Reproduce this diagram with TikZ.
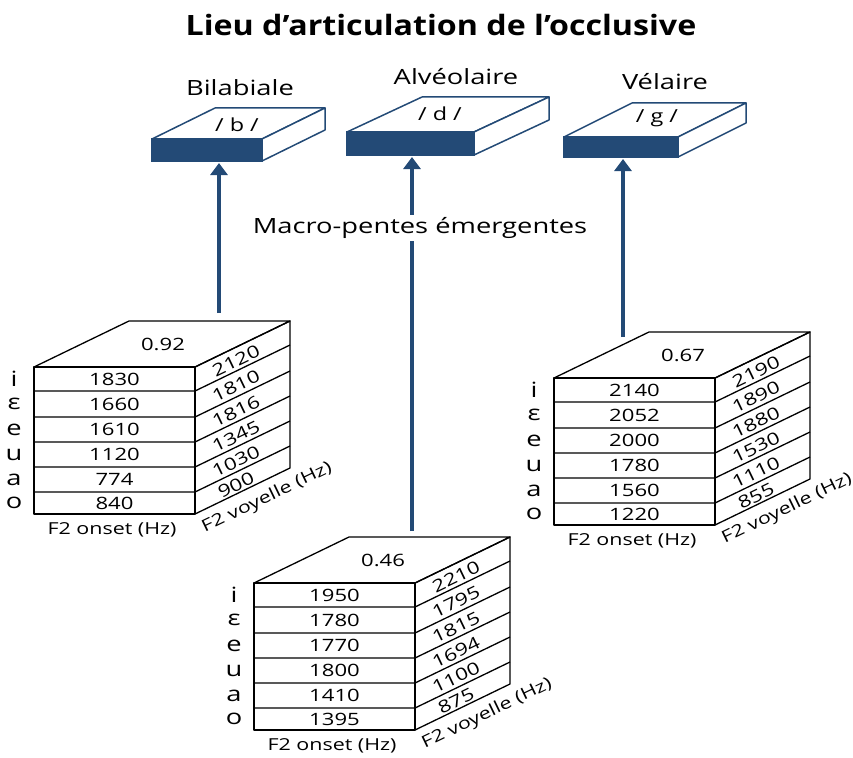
\documentclass[tikz,border=0pt]{standalone}
\usepackage{fontspec}
\setmainfont{Open Sans}[FakeStretch=1.3]
\newfontfamily\titlefont{Open Sans}[FakeStretch=1.15]
\usetikzlibrary{arrows.meta}
\definecolor{navy}{HTML}{234A76}
\tikzset{
  slabface/.style={draw=navy, line width=1.5pt, fill=white, line join=round},
  slabfront/.style={draw=navy, fill=navy, line width=1.5pt, inner sep=0pt, outer sep=0pt},
  stackline/.style={draw=black, line width=1.3pt, line join=round},
  upar/.style={draw=navy, line width=3.5pt, -{Triangle[width=17pt,length=12pt]}, shorten >=2pt},
  numtxt/.style={font=\fontsize{17}{17}\selectfont, inner sep=0pt},
  voweltxt/.style={font=\fontsize{21}{21}\selectfont, inner sep=0pt},
  axistxt/.style={font=\fontsize{16.5}{16.5}\selectfont, inner sep=0pt},
  slabtxt/.style={font=\fontsize{18}{18}\selectfont, inner sep=0pt},
  headtxt/.style={font=\fontsize{21}{21}\selectfont, inner sep=0pt},
  titletxt/.style={font=\titlefont\bfseries\fontsize{28}{28}\selectfont, inner sep=0pt},
  midtxt/.style={font=\fontsize{21}{21}\selectfont, fill=white, inner sep=2pt},
}
\def\rowlist{{0,24,50,75,100,125,147}}
\newcommand\mystack[6]{%
\begin{scope}[shift={(#2,#3)}]
  \draw[stackline] (0,0) -- (95,-46) -- (256,-46) -- (161,0) -- cycle;
  \draw[stackline] (161,0) -- (256,-46) -- (256,101) -- (161,147);
  \draw[stackline] (0,0) rectangle (161,147);
  \foreach \yy in {24,50,75,100,125} \draw[stackline] (0,\yy) -- (161,\yy) -- (256,\yy-46);
  \node[numtxt] (#1-top) at (129,-23) {#4};
  \foreach \v [count=\i] in {#5} {
    \pgfmathsetmacro\ya{\rowlist[\i-1]}
    \pgfmathsetmacro\yb{\rowlist[\i]}
    \pgfmathsetmacro\yc{(\ya+\yb)/2}
    \node[numtxt] (#1-on\i) at (80.5,\yc) {\v};
  }
  \foreach \v [count=\i] in {#6} {
    \pgfmathsetmacro\ya{\rowlist[\i-1]}
    \pgfmathsetmacro\yb{\rowlist[\i]}
    \pgfmathsetmacro\yc{(\ya+\yb)/2}
    \node[numtxt, rotate=25.8] (#1-vy\i) at (202,\yc-18) {\v};
  }
  \foreach \v [count=\i] in {i,ε,e,u,a,o} {
    \pgfmathsetmacro\ya{\rowlist[\i-1]}
    \pgfmathsetmacro\yb{\rowlist[\i]}
    \pgfmathsetmacro\yc{(\ya+\yb)/2}
    \node[voweltxt] (#1-vw\i) at (-20,\yc) {\v};
  }
  \node[axistxt] (#1-onset) at (78,163) {F2 onset (Hz)};
  \node[axistxt, rotate=25.8] (#1-voy) at (233,131) {F2 voyelle (Hz)};
\end{scope}}
% name, x, y, w, h, dx, dy
\newcommand\myslab[7]{%
  \draw[slabface] (#2,#3) -- ({#2+#6},{#3+#7}) -- ({#2+#4+#6},{#3+#7}) -- ({#2+#4},#3) -- cycle;
  \draw[slabface] ({#2+#4},#3) -- ({#2+#4+#6},{#3+#7}) -- ({#2+#4+#6},{#3+#5+#7}) -- ({#2+#4},{#3+#5}) -- cycle;
  \node[slabfront, minimum width=#4pt, minimum height=#5pt, anchor=north west] (#1) at (#2,#3) {};
}
\begin{document}
\begin{tikzpicture}[x=1pt,y=-1pt]
\useasboundingbox (0,0) rectangle (853,757);
\node[titletxt] (title) at (441,25) {Lieu d’articulation de l’occlusive};

\myslab{slabB}{152}{139}{110}{22}{63}{-31}
\myslab{slabD}{347}{132}{127}{23}{75}{-35}
\myslab{slabG}{564}{137}{114}{20}{68}{-34}

\node[slabtxt] (phB) at (237,125) {/ b /};
\node[slabtxt] (phD) at (440,114) {/ d /};
\node[slabtxt] (phG) at (657,118) {/ g /};

\node[headtxt] (hB) at (240,88) {Bilabiale};
\node[headtxt] (hD) at (456,77) {Alvéolaire};
\node[headtxt] (hG) at (665,82) {Vélaire};

\mystack{sB}{34}{367}{0.92}{1830,1660,1610,1120,774,840}{2120,1810,1816,1345,1030,900}
\mystack{sD}{254}{583}{0.46}{1950,1780,1770,1800,1410,1395}{2210,1795,1815,1694,1100,875}
\mystack{sG}{554}{378}{0.67}{2140,2052,2000,1780,1560,1220}{2190,1890,1880,1530,1110,855}

\coordinate (aB) at (219,313);
\coordinate (aD) at (412,531);
\coordinate (aG) at (623,337);

\draw[upar] (aB) -- (aB |- slabB.south);
\draw[upar] (aD) -- (aD |- slabD.south);
\draw[upar] (aG) -- (aG |- slabG.south);

\node[midtxt] (macro) at (420,228) {Macro-pentes émergentes};
\end{tikzpicture}
\end{document}
